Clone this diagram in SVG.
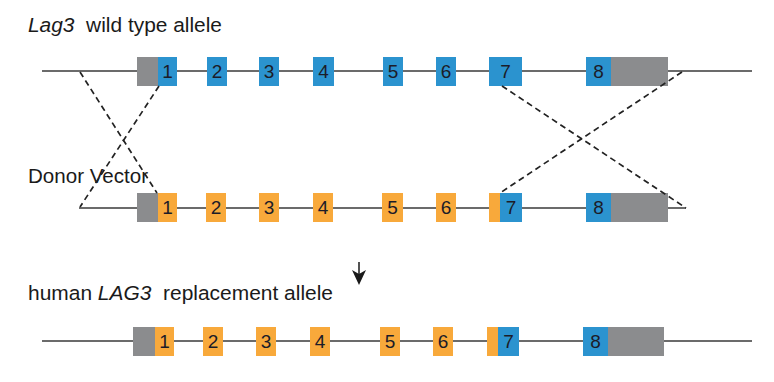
<svg xmlns="http://www.w3.org/2000/svg" width="774" height="382" viewBox="0 0 774 382">
<defs>
<style>
.bb{stroke:#6b6b6b;stroke-width:2;fill:none}
.g{fill:#8b8c8e}
.b{fill:#2b93cf}
.o{fill:#f8a93b}
.n{font-family:"Liberation Sans",Arial,sans-serif;font-size:19px;fill:#1c1c28;text-anchor:middle}
.lbl{font-family:"Liberation Sans",Arial,sans-serif;font-size:20.5px;fill:#1a1a1a;white-space:pre}
.d{stroke:#222;stroke-width:1.7;stroke-dasharray:6 4;fill:none}
</style>
</defs>
<rect width="774" height="382" fill="#ffffff"/>

<text class="lbl" xml:space="preserve" x="28" y="32" textLength="194" lengthAdjust="spacingAndGlyphs"><tspan font-style="italic">Lag3</tspan>  wild type allele</text>
<text class="lbl" x="28" y="183" textLength="120" lengthAdjust="spacingAndGlyphs">Donor Vector</text>
<text class="lbl" xml:space="preserve" x="28" y="300" textLength="305" lengthAdjust="spacingAndGlyphs">human <tspan font-style="italic">LAG3</tspan>  replacement allele</text>

<g id="wildtype">
<line class="bb" x1="42" y1="71" x2="752" y2="71"/>
<g id="wt-e1"><rect class="g" x="137" y="57" width="21" height="29"/><rect class="b" x="158" y="57" width="19" height="29"/><text class="n" x="167.5" y="78">1</text></g>
<g id="wt-e2"><rect class="b" x="207" y="57" width="20" height="29"/><text class="n" x="217" y="78">2</text></g>
<g id="wt-e3"><rect class="b" x="259" y="57" width="20" height="29"/><text class="n" x="269" y="78">3</text></g>
<g id="wt-e4"><rect class="b" x="313" y="57" width="21" height="29"/><text class="n" x="323.5" y="78">4</text></g>
<g id="wt-e5"><rect class="b" x="383" y="57" width="20" height="29"/><text class="n" x="393" y="78">5</text></g>
<g id="wt-e6"><rect class="b" x="436" y="57" width="20" height="29"/><text class="n" x="446" y="78">6</text></g>
<g id="wt-e7"><rect class="b" x="489" y="57" width="33" height="29"/><text class="n" x="505.5" y="78">7</text></g>
<g id="wt-e8"><rect class="b" x="586" y="57" width="25" height="29"/><rect class="g" x="611" y="57" width="57" height="29"/><text class="n" x="598.5" y="78">8</text></g>
</g>

<g id="donor">
<line class="bb" x1="79" y1="208" x2="686" y2="208"/>
<g id="dv-e1"><rect class="g" x="137" y="193" width="21" height="29"/><rect class="o" x="158" y="193" width="19" height="29"/><text class="n" x="167.5" y="214">1</text></g>
<g id="dv-e2"><rect class="o" x="206" y="193" width="20" height="29"/><text class="n" x="216" y="214">2</text></g>
<g id="dv-e3"><rect class="o" x="259" y="193" width="20" height="29"/><text class="n" x="269" y="214">3</text></g>
<g id="dv-e4"><rect class="o" x="313" y="193" width="20" height="29"/><text class="n" x="323" y="214">4</text></g>
<g id="dv-e5"><rect class="o" x="382" y="193" width="21" height="29"/><text class="n" x="392.5" y="214">5</text></g>
<g id="dv-e6"><rect class="o" x="436" y="193" width="20" height="29"/><text class="n" x="446" y="214">6</text></g>
<g id="dv-e7"><rect class="o" x="489" y="193" width="11" height="29"/><rect class="b" x="500" y="193" width="22" height="29"/><text class="n" x="511" y="214">7</text></g>
<g id="dv-e8"><rect class="b" x="586" y="193" width="25" height="29"/><rect class="g" x="611" y="193" width="57" height="29"/><text class="n" x="598.5" y="214">8</text></g>
</g>

<g id="replacement">
<line class="bb" x1="42" y1="341" x2="752" y2="341"/>
<g id="hr-e1"><rect class="g" x="133" y="327" width="22" height="29"/><rect class="o" x="155" y="327" width="19" height="29"/><text class="n" x="164.5" y="348">1</text></g>
<g id="hr-e2"><rect class="o" x="203" y="327" width="20" height="29"/><text class="n" x="213" y="348">2</text></g>
<g id="hr-e3"><rect class="o" x="256" y="327" width="20" height="29"/><text class="n" x="266" y="348">3</text></g>
<g id="hr-e4"><rect class="o" x="310" y="327" width="20" height="29"/><text class="n" x="320" y="348">4</text></g>
<g id="hr-e5"><rect class="o" x="380" y="327" width="20" height="29"/><text class="n" x="390" y="348">5</text></g>
<g id="hr-e6"><rect class="o" x="433" y="327" width="20" height="29"/><text class="n" x="443" y="348">6</text></g>
<g id="hr-e7"><rect class="o" x="487" y="327" width="11" height="29"/><rect class="b" x="498" y="327" width="21" height="29"/><text class="n" x="508.5" y="348">7</text></g>
<g id="hr-e8"><rect class="b" x="583" y="327" width="25" height="29"/><rect class="g" x="608" y="327" width="56" height="29"/><text class="n" x="595.5" y="348">8</text></g>
</g>

<g id="connectors">
<line class="d" x1="80" y1="72" x2="157" y2="193"/>
<line class="d" x1="159" y1="86" x2="80" y2="207"/>
<line class="d" x1="682" y1="72" x2="500" y2="193"/>
<line class="d" x1="502" y1="86" x2="686" y2="208"/>
<line x1="359" y1="262" x2="359" y2="276" stroke="#1a1a1a" stroke-width="1.5"/>
<path d="M352,270 L359,274 L366,270 L359,285 Z" fill="#1a1a1a"/>
</g>
</svg>
